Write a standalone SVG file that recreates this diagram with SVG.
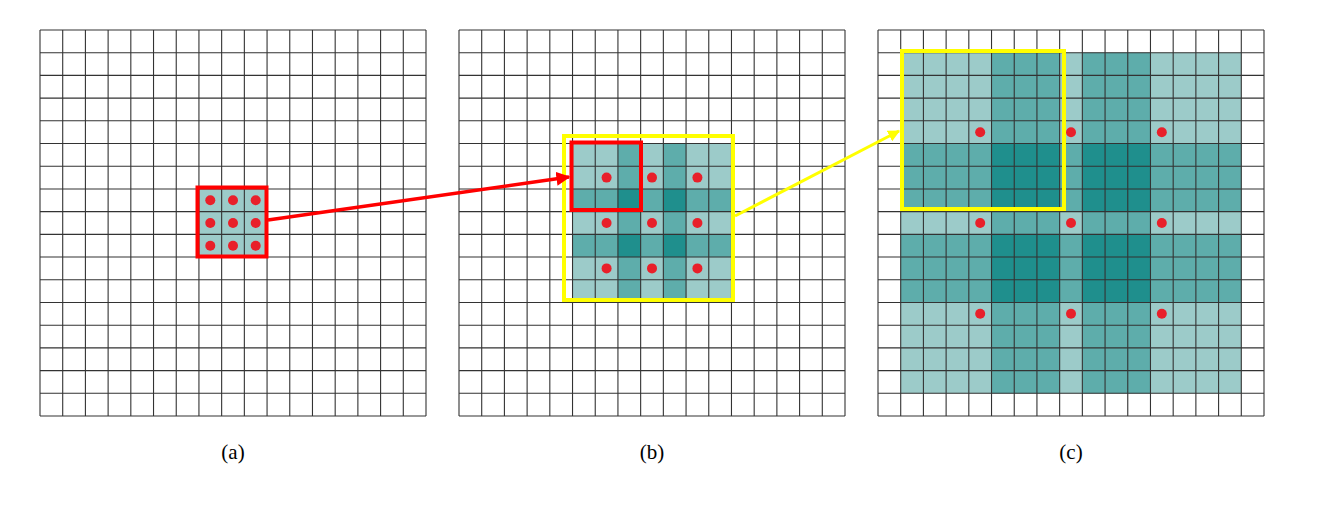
<svg xmlns="http://www.w3.org/2000/svg" xmlns:xlink="http://www.w3.org/1999/xlink" width="1325" height="513" viewBox="0 0 1325 513">
<style>
.l{fill:#9ccbc9}.m{fill:#5eadab}.d{fill:#1f8f8d}
.g{fill:none;stroke:#333;stroke-width:1.1}
.dot{fill:#e8202a}
.lab{font-family:"Liberation Serif",serif;font-size:21px;text-anchor:middle;fill:#000}
</style>
<defs>
<path id="grid" class="g" d="M0 0V386M22.71 0V386M45.41 0V386M68.12 0V386M90.82 0V386M113.53 0V386M136.24 0V386M158.94 0V386M181.65 0V386M204.35 0V386M227.06 0V386M249.76 0V386M272.47 0V386M295.18 0V386M317.88 0V386M340.59 0V386M363.29 0V386M386 0V386M0 0H386M0 22.71H386M0 45.41H386M0 68.12H386M0 90.82H386M0 113.53H386M0 136.24H386M0 158.94H386M0 181.65H386M0 204.35H386M0 227.06H386M0 249.76H386M0 272.47H386M0 295.18H386M0 317.88H386M0 340.59H386M0 363.29H386M0 386H386"/>
<marker id="ar" viewBox="0 0 10 10" refX="9" refY="5" markerWidth="4" markerHeight="4" orient="auto" markerUnits="strokeWidth"><path d="M0 0L10 5L0 10z" fill="#f00"/></marker>
<marker id="ay" viewBox="0 0 10 10" refX="9" refY="5" markerWidth="4" markerHeight="4" orient="auto" markerUnits="strokeWidth"><path d="M0 0L10 5L0 10z" fill="#ff0"/></marker>
</defs>
<rect width="1325" height="513" fill="#fff"/>
<g id="panel-a">
<rect class="l" x="198.94" y="188.94" width="68.12" height="68.12"/>
<use xlink:href="#grid" x="40" y="30"/>
<g class="dot"><circle cx="210.29" cy="200.29" r="5"/><circle cx="233" cy="200.29" r="5"/><circle cx="255.71" cy="200.29" r="5"/><circle cx="210.29" cy="223" r="5"/><circle cx="233" cy="223" r="5"/><circle cx="255.71" cy="223" r="5"/><circle cx="210.29" cy="245.71" r="5"/><circle cx="233" cy="245.71" r="5"/><circle cx="255.71" cy="245.71" r="5"/></g>
<rect x="197.5" y="187.5" width="69" height="69" fill="none" stroke="#f00" stroke-width="4"/>
<text class="lab" x="233" y="459">(a)</text>
</g>
<g id="panel-b">
<rect class="l" x="572.53" y="143.53" width="158.94" height="158.94"/>
<rect class="m" x="617.94" y="143.53" width="22.71" height="158.94"/>
<rect class="m" x="663.35" y="143.53" width="22.71" height="158.94"/>
<rect class="m" x="572.53" y="188.94" width="158.94" height="22.71"/>
<rect class="m" x="572.53" y="234.35" width="158.94" height="22.71"/>
<rect class="d" x="617.94" y="188.94" width="22.71" height="22.71"/>
<rect class="d" x="663.35" y="188.94" width="22.71" height="22.71"/>
<rect class="d" x="617.94" y="234.35" width="22.71" height="22.71"/>
<rect class="d" x="663.35" y="234.35" width="22.71" height="22.71"/>
<use xlink:href="#grid" x="459" y="30"/>
<g class="dot"><circle cx="606.59" cy="177.59" r="5"/><circle cx="652" cy="177.59" r="5"/><circle cx="697.41" cy="177.59" r="5"/><circle cx="606.59" cy="223" r="5"/><circle cx="652" cy="223" r="5"/><circle cx="697.41" cy="223" r="5"/><circle cx="606.59" cy="268.41" r="5"/><circle cx="652" cy="268.41" r="5"/><circle cx="697.41" cy="268.41" r="5"/></g>
<rect x="571.5" y="142.5" width="69.5" height="67.5" fill="none" stroke="#f00" stroke-width="4"/>
<rect x="564" y="136" width="169" height="164" fill="none" stroke="#ff0" stroke-width="4"/>
<text class="lab" x="652" y="459">(b)</text>
</g>
<g id="panel-c">
<rect class="l" x="900.71" y="52.71" width="340.59" height="340.59"/>
<rect class="m" x="991.53" y="52.71" width="68.12" height="340.59"/>
<rect class="m" x="1082.35" y="52.71" width="68.12" height="340.59"/>
<rect class="m" x="900.71" y="143.53" width="340.59" height="68.12"/>
<rect class="m" x="900.71" y="234.35" width="340.59" height="68.12"/>
<rect class="d" x="991.53" y="143.53" width="68.12" height="68.12"/>
<rect class="d" x="1082.35" y="143.53" width="68.12" height="68.12"/>
<rect class="d" x="991.53" y="234.35" width="68.12" height="68.12"/>
<rect class="d" x="1082.35" y="234.35" width="68.12" height="68.12"/>
<use xlink:href="#grid" x="878" y="30"/>
<g class="dot"><circle cx="980.18" cy="132.18" r="5"/><circle cx="1071" cy="132.18" r="5"/><circle cx="1161.82" cy="132.18" r="5"/><circle cx="980.18" cy="223" r="5"/><circle cx="1071" cy="223" r="5"/><circle cx="1161.82" cy="223" r="5"/><circle cx="980.18" cy="313.82" r="5"/><circle cx="1071" cy="313.82" r="5"/><circle cx="1161.82" cy="313.82" r="5"/></g>
<rect x="902" y="51" width="162" height="158" fill="none" stroke="#ff0" stroke-width="4"/>
<text class="lab" x="1071" y="459">(c)</text>
</g>
<g id="connectors">
<line x1="268" y1="220" x2="569" y2="177" stroke="#f00" stroke-width="3.5" marker-end="url(#ar)"/>
<line x1="735" y1="216" x2="899" y2="131" stroke="#ff0" stroke-width="3" marker-end="url(#ay)"/>
</g>
</svg>
